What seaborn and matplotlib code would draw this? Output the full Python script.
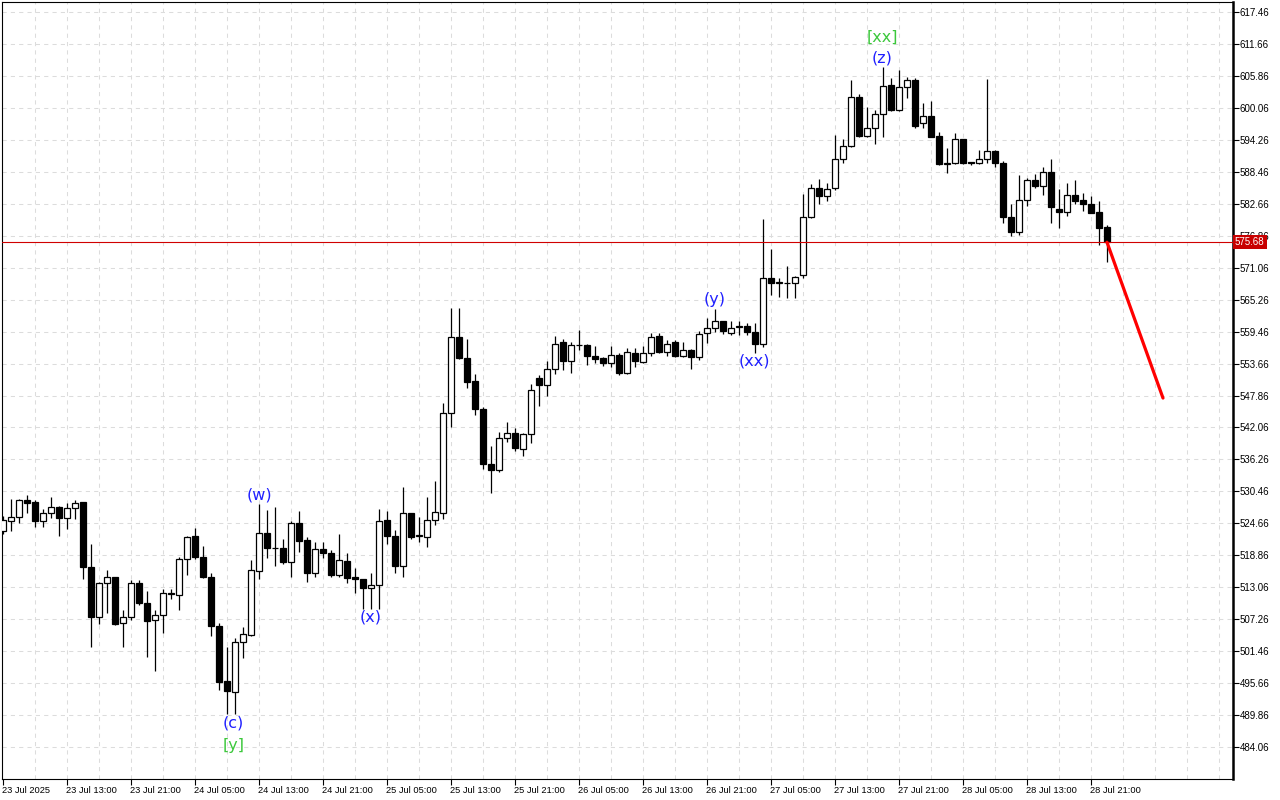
import numpy as np
import pandas as pd
import seaborn as sns
import matplotlib.pyplot as plt
import matplotlib.transforms as mtrans

# hourly candles, 23 Jul 05:00 .. 28 Jul 23:00
opens = [523.3, 525.1, 525.8, 528.9, 528.5, 525.0, 526.6, 527.7, 525.7, 527.5,
         528.5, 516.8, 507.7, 513.9, 514.9, 506.5, 507.6, 513.9, 510.2, 507.1,
         508.1, 512.0, 511.6, 518.2, 522.4, 518.6, 515.0, 506.1, 496.0, 494.1,
         503.1, 504.4, 516.1, 522.9, 520.1, 520.1, 517.7, 524.8, 521.6, 515.7,
         520.0, 519.2, 515.2, 517.8, 514.9, 514.5, 513.0, 513.4, 525.3, 522.4,
         517.0, 526.5, 522.3, 522.2, 525.3, 526.5, 544.6, 558.4, 554.6, 550.5,
         545.5, 535.4, 534.3, 540.1, 541.0, 538.1, 540.8, 551.1, 549.8, 552.6,
         557.5, 554.2, 557.0, 557.1, 555.1, 554.6, 553.8, 555.2, 552.0, 555.6,
         554.0, 555.6, 558.7, 555.8, 557.5, 555.0, 556.2, 554.9, 559.2, 560.2,
         561.3, 559.2, 560.3, 560.5, 559.4, 557.2, 569.1, 568.3, 568.3, 568.2,
         569.7, 580.3, 585.5, 584.1, 585.5, 590.7, 593.2, 602.1, 595.0, 596.5,
         598.9, 604.2, 599.6, 603.8, 605.1, 597.3, 598.5, 595.0, 589.9, 590.0,
         594.4, 590.2, 590.0, 590.7, 592.2, 590.0, 580.2, 577.6, 583.3, 587.0,
         585.9, 588.4, 581.8, 581.2, 584.3, 583.3, 582.7, 581.1, 578.4]
highs = [526.0, 529.1, 529.1, 529.8, 528.9, 527.2, 529.4, 527.8, 528.3, 528.9,
         528.6, 520.9, 514.0, 516.2, 515.0, 509.0, 514.4, 514.4, 512.4, 509.0,
         512.7, 512.8, 518.6, 522.3, 523.8, 520.5, 515.6, 506.6, 502.3, 503.9,
         505.9, 518.0, 528.2, 527.1, 527.6, 521.8, 525.1, 526.9, 522.2, 521.3,
         521.3, 519.8, 522.7, 519.3, 516.5, 514.6, 515.6, 527.2, 526.9, 523.5,
         531.2, 526.6, 525.9, 529.5, 532.3, 546.5, 563.7, 563.7, 558.2, 551.7,
         545.7, 538.7, 541.2, 543.1, 541.9, 541.0, 549.9, 551.6, 554.1, 558.7,
         558.1, 557.6, 559.8, 557.2, 556.9, 554.9, 556.9, 555.5, 556.4, 556.4,
         556.9, 559.2, 559.2, 557.9, 557.9, 557.6, 556.3, 559.6, 561.9, 563.5,
         561.4, 561.4, 561.4, 561.1, 561.0, 579.9, 574.4, 569.1, 571.4, 569.6,
         584.4, 586.3, 587.2, 586.5, 595.1, 594.4, 605.1, 602.6, 600.2, 599.7,
         607.4, 605.4, 606.9, 605.6, 605.4, 600.9, 601.3, 595.7, 592.7, 595.5,
         594.5, 590.3, 592.5, 605.3, 592.5, 590.5, 582.6, 587.9, 587.3, 588.1,
         589.4, 590.8, 585.3, 586.4, 587.0, 584.6, 584.1, 583.2, 578.8]
lows = [522.8, 523.3, 524.8, 526.6, 524.0, 524.0, 525.7, 522.4, 523.7, 525.4,
        514.5, 502.3, 506.4, 508.4, 506.2, 502.3, 507.1, 509.9, 500.4, 497.9,
        504.7, 510.9, 509.0, 515.3, 518.2, 514.8, 504.3, 494.4, 490.0, 490.0,
        500.2, 504.3, 514.6, 518.3, 516.9, 517.3, 515.0, 519.5, 514.1, 514.9,
        518.3, 515.0, 515.0, 513.9, 512.1, 509.2, 509.2, 509.2, 521.0, 515.7,
        515.0, 521.9, 521.3, 520.4, 524.4, 525.5, 542.1, 554.5, 549.3, 544.3,
        534.6, 530.2, 533.9, 539.5, 537.7, 536.9, 539.3, 546.0, 547.8, 551.7,
        552.5, 552.0, 556.1, 553.4, 553.8, 553.2, 553.1, 551.6, 551.8, 553.0,
        553.7, 555.0, 555.6, 555.0, 554.9, 554.8, 552.7, 554.3, 557.4, 559.3,
        559.0, 558.8, 558.8, 558.8, 555.6, 556.7, 566.1, 565.7, 565.5, 565.5,
        569.1, 580.0, 582.7, 583.2, 585.2, 590.1, 593.0, 594.8, 594.8, 593.5,
        594.8, 599.5, 599.5, 601.8, 596.4, 596.5, 594.8, 589.7, 588.3, 589.9,
        589.9, 589.7, 589.9, 590.0, 589.4, 579.1, 576.9, 577.0, 582.3, 585.5,
        584.3, 579.1, 578.3, 580.5, 582.7, 581.4, 580.9, 575.1, 572.1]
closes = [525.3, 525.8, 528.9, 528.4, 525.0, 526.6, 527.7, 525.7, 527.5, 528.3,
          516.7, 507.7, 513.9, 514.9, 506.4, 507.6, 513.9, 510.2, 506.9, 508.1,
          512.0, 511.8, 518.2, 522.1, 518.6, 515.0, 506.1, 495.9, 494.2, 503.1,
          504.5, 516.2, 522.9, 520.1, 520.2, 517.7, 524.8, 521.5, 515.6, 520.0,
          519.2, 515.3, 518.0, 514.8, 514.5, 513.0, 513.4, 525.0, 522.4, 517.0,
          526.5, 522.2, 522.5, 525.3, 526.7, 544.7, 558.4, 554.6, 550.4, 545.4,
          535.4, 534.3, 540.1, 541.0, 538.3, 540.8, 548.9, 549.8, 552.6, 557.3,
          554.2, 557.0, 557.1, 555.1, 554.5, 553.8, 555.2, 552.0, 555.7, 554.2,
          555.6, 558.5, 555.8, 557.3, 555.0, 556.2, 554.9, 559.0, 560.2, 561.3,
          559.6, 560.2, 560.4, 559.3, 557.2, 569.1, 568.2, 568.4, 568.2, 569.4,
          580.3, 585.5, 584.1, 585.3, 590.7, 593.2, 602.1, 595.0, 596.5, 598.9,
          604.0, 599.6, 603.8, 605.1, 596.8, 598.5, 594.8, 589.9, 590.0, 594.4,
          590.1, 590.0, 590.7, 592.2, 590.0, 580.2, 577.6, 583.3, 587.0, 585.9,
          588.4, 582.0, 581.2, 584.3, 583.2, 582.7, 581.0, 578.3, 575.68]

x_tick_labels = ["23 Jul 2025", "23 Jul 13:00", "23 Jul 21:00", "24 Jul 05:00",
                 "24 Jul 13:00", "24 Jul 21:00", "25 Jul 05:00", "25 Jul 13:00",
                 "25 Jul 21:00", "26 Jul 05:00", "26 Jul 13:00", "26 Jul 21:00",
                 "27 Jul 05:00", "27 Jul 13:00", "27 Jul 21:00", "28 Jul 05:00",
                 "28 Jul 13:00", "28 Jul 21:00"]
y_ticks = [484.06, 489.86, 495.66, 501.46, 507.26, 513.06, 518.86, 524.66,
           530.46, 536.26, 542.06, 547.86, 553.66, 559.46, 565.26, 571.06,
           576.86, 582.66, 588.46, 594.26, 600.06, 605.86, 611.66, 617.46]

wave_text = ["(c)", "[y]", "(w)", "(x)", "(y)", "(xx)", "(z)", "[xx]"]
wave_x = [28.75, 28.8, 32, 46, 88.9, 93.9, 109.9, 109.9]
wave_y = [488.4, 484.4, 529.8, 507.7, 565.2, 554.1, 609.1, 612.9]
wave_kind = ["minor", "major", "minor", "minor", "minor", "minor", "minor", "major"]

last_price = 575.68
forecast_x = [138, 145]
forecast_y = [575.68, 547.4]

df = pd.DataFrame({"open": opens, "high": highs, "low": lows, "close": closes})
df["i"] = np.arange(len(df))
df["up"] = df["close"] >= df["open"]
df["bottom"] = df[["open", "close"]].min(axis=1)
df["body"] = (df["close"] - df["open"]).abs()

sns.set_theme(style="white")
plt.rcParams["font.family"] = ["Liberation Sans", "DejaVu Sans"]

fig = plt.figure(figsize=(12.8, 8), dpi=100)
ax = fig.add_axes([2 / 1280, 21 / 800, 1231 / 1280, 777 / 800])
ax.set_facecolor("white")

# grid
for gx in range(4, 154, 4):
    ax.axvline(gx, color="#dcdcdc", lw=0.75, ls=(0, (4, 4)), zorder=0)
for gy in y_ticks:
    ax.axhline(gy, color="#dcdcdc", lw=0.75, ls=(0, (4, 4)), zorder=0)

# candles
ax.vlines(df["i"], df["low"], df["high"], color="black", lw=0.9, zorder=2)
ax.bar(df["i"], df["body"], bottom=df["bottom"], width=0.72,
       color=np.where(df["up"], "white", "black"), edgecolor="black",
       linewidth=0.9, zorder=3)

ax.axhline(last_price, color="#d00000", lw=0.8, zorder=4)
sns.lineplot(x=forecast_x, y=forecast_y, color="#ff0000", lw=2.3, ax=ax, zorder=5)

for t, x, y, k in zip(wave_text, wave_x, wave_y, wave_kind):
    ax.text(x, y, t, ha="center", va="center", fontsize=11.5,
            family="DejaVu Sans",
            color="#2020ff" if k == "minor" else "#3cc83c", zorder=6)

ax.set_xlim(-0.125, 153.75)
ax.set_ylim(478.26, 619.28)

ax.set_xticks(range(0, 139, 8))
ax.set_xticklabels(x_tick_labels, ha="left")
ax.yaxis.tick_right()
ax.set_yticks(y_ticks)
ax.set_yticklabels([f"{v:.2f}" for v in y_ticks])
ax.tick_params(axis="x", length=4, width=0.8, pad=1, labelsize=6.7,
               colors="black", bottom=True)
ax.tick_params(axis="y", length=4, width=0.8, pad=1, labelsize=7.0,
               colors="black", right=True, left=False)
for lab in ax.get_xticklabels():
    lab.set_transform(lab.get_transform() + mtrans.ScaledTranslation(-1 / 100, 0, fig.dpi_scale_trans))

for s in ["left", "top", "bottom"]:
    ax.spines[s].set_color("black")
    ax.spines[s].set_linewidth(0.8)
ax.spines["right"].set_color("black")
ax.spines["right"].set_linewidth(1.8)

# price tag sits over the 576.86 axis label, as in the terminal
ax.text(1.0016, last_price, f"{last_price:.2f}", transform=ax.get_yaxis_transform(),
        ha="left", va="center", fontsize=7.0, color="white", zorder=10,
        clip_on=False,
        bbox=dict(boxstyle="square,pad=0.2", fc="#c80000", ec="none"))

fig.savefig("out.png", dpi=100, facecolor="white")
